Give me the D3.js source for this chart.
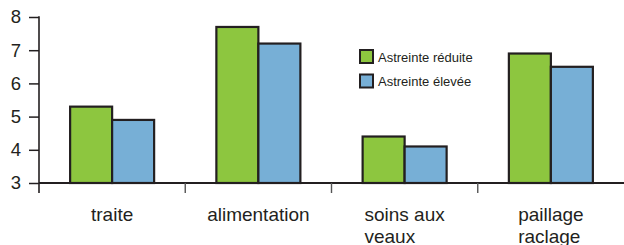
<!DOCTYPE html>
<html>
<head>
<meta charset="utf-8">
<script src="https://cdn.jsdelivr.net/npm/d3@7"></script>
<style>
  html, body { margin: 0; padding: 0; background: #fff; }
  svg { display: block; }
  text { font-family: "Liberation Sans", Arial, Helvetica, sans-serif; fill: #231f20; }
</style>
</head>
<body>
<svg id="chart" width="624" height="245"></svg>
<script>
// ---- data ----
const categories = [["traite"], ["alimentation"], ["soins aux", "veaux"], ["paillage", "raclage"]];
const seriesNames = ["Astreinte réduite", "Astreinte élevée"];
const reduite = [5.3, 7.7, 4.4, 6.9];
const elevee = [4.9, 7.2, 4.1, 6.5];
const yTicks = [3, 4, 5, 6, 7, 8];
const colors = ["#8dc63f", "#77afd6"];

const catKeys = categories.map(c => c.join(" "));
const values = [reduite, elevee];

const svg = d3.select("#chart");
const stroke = "#231f20";

const x0 = d3.scaleBand().domain(catKeys).range([39, 624]).padding(0);
const inner = x0.bandwidth() * 0.2128;
const x1 = d3.scaleBand().domain(seriesNames).range([inner, x0.bandwidth() - inner]).padding(0);
const y = d3.scaleLinear().domain([3, 8]).range([183, 17]);

// Bars
const groups = svg.append("g").selectAll("g")
  .data(catKeys)
  .join("g")
  .attr("transform", d => `translate(${x0(d)},0)`);

groups.selectAll("rect")
  .data((d, i) => seriesNames.map((s, j) => ({ s, j, v: values[j][i] })))
  .join("rect")
  .attr("x", d => x1(d.s))
  .attr("y", d => y(d.v))
  .attr("width", x1.bandwidth())
  .attr("height", d => y(3) - y(d.v))
  .attr("fill", d => colors[d.j])
  .attr("stroke", stroke)
  .attr("stroke-width", 2.2);

// Y axis
const yAxis = d3.axisLeft(y).tickValues(yTicks).tickSize(10).tickPadding(8).tickFormat(d3.format("d"));
const yg = svg.append("g").attr("transform", "translate(39,0)").call(yAxis);
yg.select(".domain").remove();
yg.selectAll(".tick line").attr("stroke", stroke).attr("stroke-width", 1.5);
yg.selectAll(".tick text").style("font-size", "18.5px").attr("fill", "#231f20");
svg.append("line").attr("x1", 39).attr("x2", 39).attr("y1", y(8) - 0.75).attr("y2", 193)
  .attr("stroke", stroke).attr("stroke-width", 1.6);

// X baseline
svg.append("line").attr("x1", 39).attr("x2", 624).attr("y1", y(3)).attr("y2", y(3))
  .attr("stroke", stroke).attr("stroke-width", 2.2);

// Separator ticks at band boundaries
svg.append("g").selectAll("line")
  .data(catKeys.slice(1))
  .join("line")
  .attr("x1", d => x0(d)).attr("x2", d => x0(d))
  .attr("y1", y(3)).attr("y2", 193)
  .attr("stroke", "#555").attr("stroke-width", 1.4);

// Category labels (left-aligned block, centered under band)
const lab = svg.append("g").selectAll("text")
  .data(categories)
  .join("text")
  .style("font-size", "19px");
lab.each(function(lines, i) {
  const t = d3.select(this);
  lines.forEach((ln, k) => {
    t.append("tspan").attr("x", 0).attr("y", 221 + k * 21.7).text(ln);
  });
  const w = d3.max(t.selectAll("tspan").nodes(), n => n.getComputedTextLength());
  const cx = x0(catKeys[i]) + x0.bandwidth() / 2;
  t.selectAll("tspan").attr("x", cx - w / 2);
});

// Legend
const leg = svg.append("g").selectAll("g")
  .data(seriesNames)
  .join("g")
  .attr("transform", (d, i) => `translate(360,${50 + i * 24.5})`);
leg.append("rect")
  .attr("width", 13).attr("height", 13)
  .attr("fill", (d, i) => colors[i])
  .attr("stroke", stroke).attr("stroke-width", 2);
leg.append("text")
  .attr("x", 18).attr("y", 11.5)
  .style("font-size", "13px")
  .text(d => d);
</script>
</body>
</html>
